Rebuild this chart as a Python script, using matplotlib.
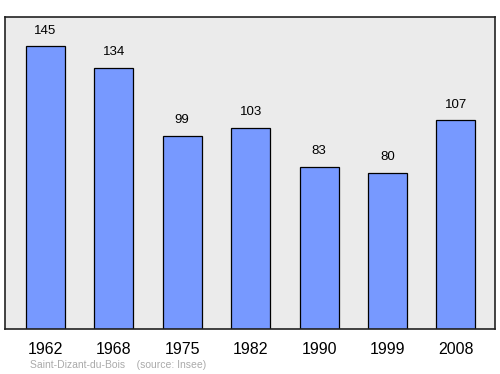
import matplotlib.pyplot as plt

plt.rcParams["font.family"] = ["Liberation Sans", "DejaVu Sans"]

years = ["1962", "1968", "1975", "1982", "1990", "1999", "2008"]
population = [145, 134, 99, 103, 83, 80, 107]

fig = plt.figure(figsize=(5, 3.74), dpi=100)
ax = fig.add_axes([0.01, 0.1203, 0.98, 0.834])
ax.set_facecolor("#ebebeb")

pos = list(range(len(years)))
ax.bar(pos, population, width=0.57, color="#7799ff", edgecolor="black", linewidth=0.9, zorder=2)

# value labels above bars
for x, v in zip(pos, population):
    ax.annotate(str(v), (x, v), xytext=(0, 7), textcoords="offset points",
                ha="center", va="bottom", fontsize=9.5, color="black")

ax.set_xlim(-0.59, 6.57)
ax.set_ylim(0, 160)
ax.set_xticks(pos)
ax.set_xticklabels(years, fontsize=11.5)
ax.tick_params(axis="x", length=0, pad=9)
ax.set_yticks([])
for s in ax.spines.values():
    s.set_linewidth(1.2)
    s.set_color("#222222")

fig.text(0.06, 0.01, "Saint-Dizant-du-Bois    (source: Insee)", fontsize=7.5,
         color="#aaaaaa", ha="left", va="bottom")

fig.savefig("out.png", dpi=100)
